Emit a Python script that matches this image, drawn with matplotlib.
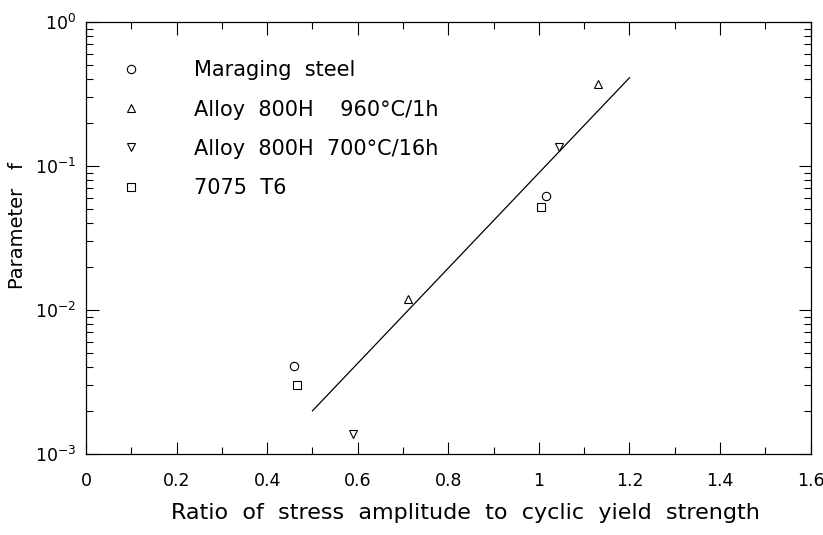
import matplotlib
matplotlib.use("Agg")
import matplotlib.pyplot as plt
from matplotlib.ticker import MultipleLocator, LogLocator, NullFormatter

# data
maraging_x = [0.46, 1.015]
maraging_f = [0.0041, 0.062]
alloy960_x = [0.71, 1.13]
alloy960_f = [0.012, 0.37]
alloy700_x = [0.59, 1.045]
alloy700_f = [0.00138, 0.135]
al7075_x = [0.465, 1.005]
al7075_f = [0.003, 0.052]
fit_x = [0.5, 1.2]
fit_f = [0.002, 0.41]

LABELS = [
    "Maraging  steel",
    "Alloy  800H    960°C/1h",
    "Alloy  800H  700°C/16h",
    "7075  T6",
]
X_TICKS = [0, 0.2, 0.4, 0.6, 0.8, 1.0, 1.2, 1.4, 1.6]
X_TICKLABELS = ["0", "0.2", "0.4", "0.6", "0.8", "1", "1.2", "1.4", "1.6"]

plt.rcParams["font.family"] = ["DejaVu Sans"]

fig = plt.figure(figsize=(8.23, 5.35), dpi=100)
ax = fig.add_axes([0.1045, 0.151, 0.8805, 0.808])

mk = dict(linestyle="none", markerfacecolor="none", markeredgecolor="black",
          markeredgewidth=0.8, markersize=6)
ax.plot(maraging_x, maraging_f, marker="o", label=LABELS[0], **mk)
ax.plot(alloy960_x, alloy960_f, marker="^", label=LABELS[1], **mk)
ax.plot(alloy700_x, alloy700_f, marker="v", label=LABELS[2], **mk)
ax.plot(al7075_x, al7075_f, marker="s", label=LABELS[3], **mk)
ax.plot(fit_x, fit_f, color="black", linewidth=0.9)

ax.set_yscale("log")
ax.set_xlim(0, 1.6)
ax.set_ylim(1e-3, 1)
ax.set_xticks(X_TICKS)
ax.set_xticklabels(X_TICKLABELS)
ax.xaxis.set_minor_locator(MultipleLocator(0.1))
ax.yaxis.set_major_locator(LogLocator(base=10, numticks=10))
ax.yaxis.set_minor_locator(LogLocator(base=10, subs=range(2, 10), numticks=10))
ax.yaxis.set_minor_formatter(NullFormatter())

ax.tick_params(which="both", direction="in", top=True, right=True,
               labelsize=12.5, width=0.8)
ax.tick_params(which="major", length=9)
ax.tick_params(which="minor", length=5)
ax.tick_params(axis="x", which="major", pad=13)
ax.tick_params(axis="y", which="major", pad=7)
for s in ax.spines.values():
    s.set_linewidth(0.9)

ax.set_xlabel("Ratio  of  stress  amplitude  to  cyclic  yield  strength",
              fontsize=16, labelpad=9)
ax.xaxis.label.set_x(0.523)  # label sits a bit right of centre in the original
ax.set_ylabel("Parameter   f", fontsize=14)
ax.yaxis.set_label_coords(-0.081, 0.53)

ax.legend(loc="upper left", bbox_to_anchor=(0.034, 0.935), frameon=False,
          fontsize=15, handlelength=1.0, handletextpad=2.5, labelspacing=0.92,
          borderpad=0)

fig.savefig("out.png", dpi=100)
